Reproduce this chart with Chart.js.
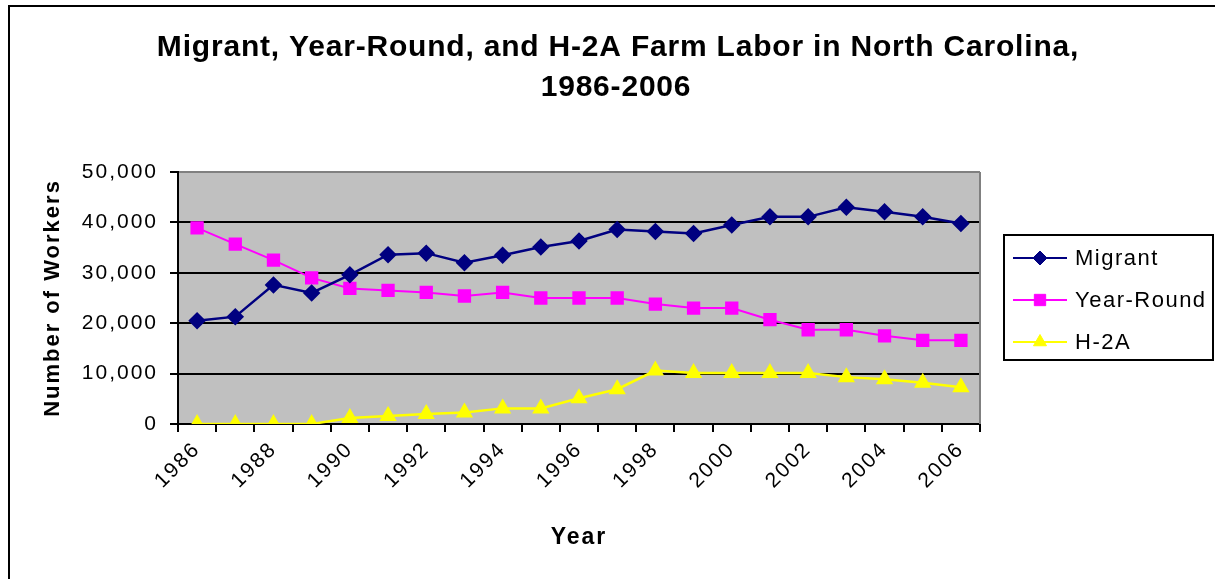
<!DOCTYPE html>
<html>
<head>
<meta charset="utf-8">
<script src="https://cdn.jsdelivr.net/npm/chart.js@4.4.0/dist/chart.umd.min.js"></script>
<style>
  html, body { margin: 0; padding: 0; background: #fff; }
  #wrap { position: relative; width: 1215px; height: 579px; overflow: hidden; }
  #frame { position: absolute; left: 8px; top: 5px; width: 1400px; height: 800px;
           border-left: 2px solid #000; border-top: 2px solid #000; box-sizing: border-box; }
  canvas { position: absolute; left: 0; top: 0; }
</style>
</head>
<body>
<div id="wrap">
  <div id="frame"></div>
  <canvas id="grafico" width="1215" height="579"></canvas>
</div>
<script>
// dados
const anos = ['1986','1987','1988','1989','1990','1991','1992','1993','1994','1995','1996',
              '1997','1998','1999','2000','2001','2002','2003','2004','2005','2006'];
const migrant   = [20500, 21300, 27600, 26000, 29600, 33600, 33900, 32000, 33500, 35100, 36300,
                   38600, 38200, 37800, 39500, 41100, 41100, 43000, 42100, 41100, 39800];
const yearRound = [38900, 35700, 32500, 29000, 26900, 26500, 26100, 25400, 26100, 25000, 25000,
                   25000, 23800, 23000, 23000, 20700, 18700, 18700, 17500, 16600, 16600];
const h2a       = [0, 0, 0, 0, 1200, 1600, 2000, 2300, 3100, 3100, 5100,
                   6900, 10600, 10100, 10100, 10100, 10100, 9300, 8900, 8200, 7300];
const yTicks = [0, 10000, 20000, 30000, 40000, 50000];
const tituloLinhas = ['Migrant, Year-Round, and H-2A Farm Labor in North Carolina,', '1986-2006'];

const FONTE = "'Liberation Sans', Arial, sans-serif";

// fundo cinza da área de plotagem + espaçamento de letras
const fundoPlugin = {
  id: 'fundo',
  beforeDraw(chart) {
    const { ctx, chartArea: a } = chart;
    ctx.save();
    ctx.fillStyle = '#C0C0C0';
    ctx.fillRect(a.left, a.top, a.right - a.left, a.bottom - a.top);
    ctx.restore();
    ctx.letterSpacing = '2px';
  },
  beforeDatasetsDraw(chart) {
    const { ctx, chartArea: a } = chart;
    ctx.save();
    ctx.strokeStyle = '#808080';
    ctx.lineWidth = 2;
    ctx.beginPath();
    ctx.moveTo(a.right, a.top);
    ctx.lineTo(a.right, a.bottom);
    ctx.stroke();
    ctx.restore();
  }
};

// título e legenda desenhados à mão (posições do original)
const textoPlugin = {
  id: 'texto',
  afterDraw(chart) {
    const ctx = chart.ctx;
    ctx.save();
    ctx.fillStyle = '#000';
    ctx.letterSpacing = '0.8px';
    ctx.font = 'bold 30px ' + FONTE;
    ctx.textAlign = 'center';
    ctx.textBaseline = 'middle';
    ctx.fillText(tituloLinhas[0], 618, 48);
    ctx.fillText(tituloLinhas[1], 616, 88);

    // caixa da legenda
    ctx.strokeStyle = '#000';
    ctx.lineWidth = 2;
    ctx.strokeRect(1004, 235, 209, 125);
    const linhasY = [258, 300, 342];
    ctx.font = '22px ' + FONTE;
    ctx.letterSpacing = '1.5px';
    ctx.textAlign = 'left';
    chart.data.datasets.forEach((ds, i) => {
      const y = linhasY[i];
      ctx.strokeStyle = ds.borderColor;
      ctx.lineWidth = 2;
      ctx.beginPath();
      ctx.moveTo(1013, y);
      ctx.lineTo(1067, y);
      ctx.stroke();
      ctx.fillStyle = ds.pointBackgroundColor;
      ctx.strokeStyle = ds.pointBorderColor;
      ctx.lineWidth = 1;
      Chart.helpers.drawPoint(ctx, { pointStyle: ds.pointStyle, radius: ds.pointRadius, rotation: 0, borderWidth: 1 }, 1040, y);
      ctx.fillStyle = '#000';
      ctx.fillText(ds.label, 1075, y + 1);
    });
    ctx.restore();
  }
};

const canvas = document.getElementById('grafico');
const ctx = canvas.getContext('2d');

new Chart(ctx, {
  type: 'line',
  data: {
    labels: anos,
    datasets: [
      { label: 'Migrant', data: migrant, borderColor: '#000080', backgroundColor: '#000080',
        pointBackgroundColor: '#000080', pointBorderColor: '#000080',
        pointStyle: 'rectRot', pointRadius: 7, borderWidth: 2.5, tension: 0 },
      { label: 'Year-Round', data: yearRound, borderColor: '#FF00FF', backgroundColor: '#FF00FF',
        pointBackgroundColor: '#FF00FF', pointBorderColor: '#FF00FF',
        pointStyle: 'rect', pointRadius: 8, borderWidth: 2, tension: 0 },
      { label: 'H-2A', data: h2a, borderColor: '#FFFF00', backgroundColor: '#FFFF00',
        pointBackgroundColor: '#FFFF00', pointBorderColor: '#FFFF00',
        pointStyle: 'triangle', pointRadius: 7.5, borderWidth: 2.5, tension: 0 }
    ]
  },
  options: {
    responsive: false,
    animation: false,
    layout: { padding: { top: 172, right: 235, bottom: 0, left: 0 } },
    plugins: {
      legend: { display: false },
      title: { display: false },
      tooltip: { enabled: false }
    },
    scales: {
      x: {
        type: 'category',
        offset: true,
        grid: { offset: true, drawOnChartArea: false, color: '#000', lineWidth: 2, tickLength: 8, tickWidth: 2 },
        border: { color: '#000', width: 2 },
        ticks: {
          autoSkip: false, maxRotation: 45, minRotation: 45, color: '#000', padding: 5,
          font: { family: FONTE, size: 21 },
          callback: (v, i) => (i % 2 === 0 ? anos[i] : '')
        },
        title: { display: true, text: 'Year', color: '#000',
                 font: { family: FONTE, size: 23, weight: 'bold' }, padding: { top: 0, bottom: 28 } },
        afterFit(s) { s.height = 155; }
      },
      y: {
        min: 0, max: 50000,
        afterBuildTicks(s) { s.ticks = yTicks.map(v => ({ value: v })); },
        grid: {
          color: c => (c.tick && c.tick.value === 50000 ? '#808080' : '#000'),
          lineWidth: 2, tickLength: 8, tickColor: '#000', tickWidth: 2
        },
        border: { color: '#000', width: 2 },
        ticks: {
          color: '#000', padding: 12,
          font: { family: FONTE, size: 21 },
          callback: v => v.toLocaleString('en-US')
        },
        title: { display: true, text: 'Number of Workers', color: '#000',
                 font: { family: FONTE, size: 22, weight: 'bold' }, padding: { top: 40, bottom: 0 } },
        afterFit(s) { s.width = 178; }
      }
    }
  },
  plugins: [fundoPlugin, textoPlugin]
});
</script>
</body>
</html>
